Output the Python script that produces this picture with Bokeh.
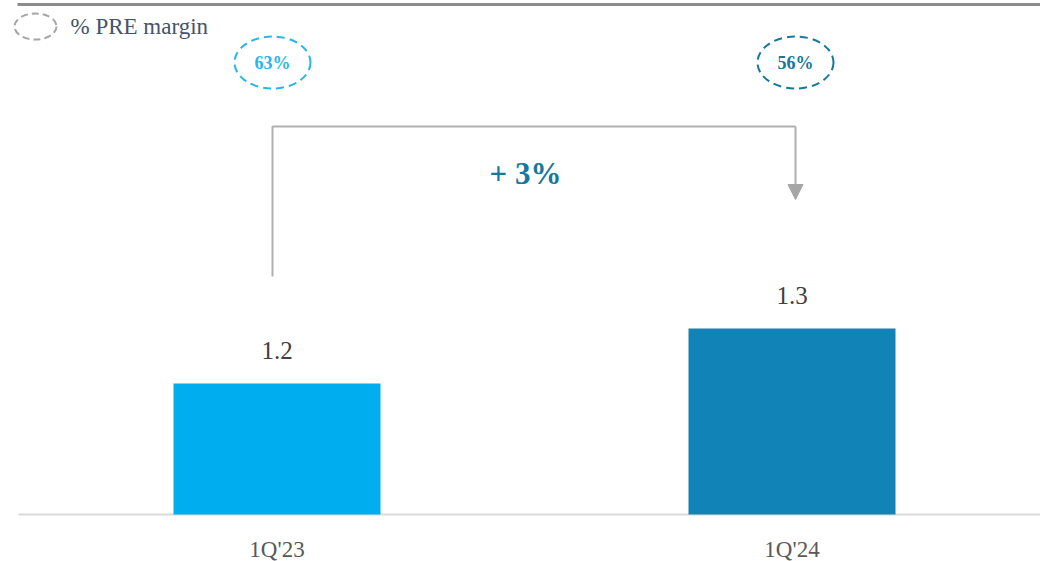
from bokeh.plotting import figure
from bokeh.models import Range1d, Arrow, NormalHead
from bokeh.core.properties import value
from bokeh.embed import file_html
from bokeh.resources import INLINE

# ---- data ----
categories = ["1Q'23", "1Q'24"]
revenue = [1.2, 1.3]
value_labels = ["1.2", "1.3"]
margins = ["63%", "56%"]
growth_label = "+ 3%"
legend_label = "% PRE margin"
bar_colors = ["#00aeef", "#1183b7"]
margin_colors = ["#29b6ea", "#17789b"]

# ---- layout helpers ----
W, H = 1040, 561
FB = 514          # baseline in px
XS = 515.0        # px per category
X0PX = 276.5      # px of first category centre
YS = 550.0        # px per unit
Y0 = 0.9618       # value at baseline
FONT = "Liberation Serif"


def xd(px):
    return (px - X0PX) / XS


def yd(py):
    return Y0 + (FB - py) / YS


xs = list(range(len(categories)))

p = figure(width=W, height=H, output_backend="svg", toolbar_location=None,
           x_range=Range1d(xd(0), xd(W)), y_range=Range1d(yd(H), yd(0)),
           x_axis_location=None, y_axis_location=None,
           min_border_left=0, min_border_right=0, min_border_top=0,
           min_border_bottom=0, outline_line_color=None)
p.grid.visible = False
p.background_fill_color = "white"

# top rule
p.segment(x0=[xd(17)], y0=[yd(4)], x1=[xd(1040)], y1=[yd(4)], line_color="#8c8c8c", line_width=3)
# baseline
p.segment(x0=[xd(18)], y0=[Y0], x1=[xd(1040)], y1=[Y0], line_color="#d9d9d9", line_width=2)

# bars
p.vbar(x=xs, top=revenue, bottom=Y0, width=207 / XS, fill_color=bar_colors, line_color=None)

# category labels
p.text(x=xs, y=[Y0 - 35 / YS] * len(xs), text=categories,
       text_font=value(FONT), text_font_size="23px", text_color="#595959",
       text_align="center", text_baseline="middle")

# value labels
p.text(x=xs, y=[v + 33 / YS for v in revenue], text=value_labels,
       text_font=value(FONT), text_font_size="25px", text_color="#404040",
       text_align="center", text_baseline="middle")

# bracket
bx = [xs[0] - 4.5 / XS, xs[0] - 4.5 / XS, xs[1] + 3.5 / XS]
p.line(x=bx, y=[yd(276), yd(126), yd(126)], line_color="#b0b0b0", line_width=2)
p.add_layout(Arrow(end=NormalHead(size=15, fill_color="#a6a6a6", line_color="#a6a6a6"),
                   x_start=bx[2], y_start=yd(126), x_end=bx[2], y_end=yd(199),
                   line_color="#b0b0b0", line_width=2))
p.text(x=[xd(525)], y=[yd(173)], text=[growth_label], text_font=value(FONT),
       text_font_size="31px", text_font_style="bold", text_color="#17789b",
       text_align="center", text_baseline="middle")

# margin ellipses
ex = [xs[0] - 4.5 / XS, xs[1] + 3.5 / XS]
p.ellipse(x=ex, y=[yd(62)] * 2, width=76, height=52, width_units="screen",
          height_units="screen", fill_color=None, line_color=margin_colors,
          line_width=2, line_dash="8 5")
p.text(x=ex, y=[yd(62)] * 2, text=margins, text_font=value(FONT),
       text_font_size="18px", text_font_style="bold", text_color=margin_colors,
       text_align="center", text_baseline="middle")

# legend
p.ellipse(x=[xd(35)], y=[yd(26)], width=42, height=26, width_units="screen",
          height_units="screen", fill_color=None, line_color="#a6a6a6",
          line_width=2, line_dash="7 4")
p.text(x=[xd(70)], y=[yd(26)], text=[legend_label], text_font=value(FONT),
       text_font_size="23px", text_color="#44546a", text_align="left",
       text_baseline="middle")

open("out.html", "w").write(file_html(p, INLINE))
